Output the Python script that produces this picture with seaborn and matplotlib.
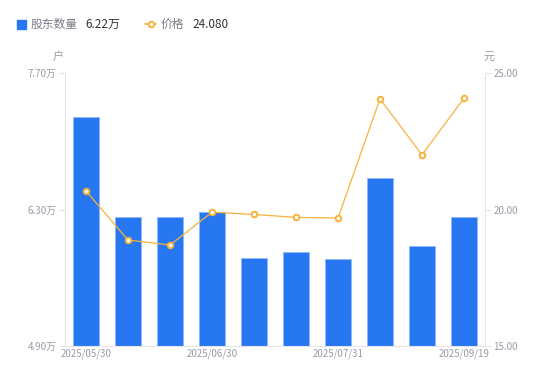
import matplotlib
matplotlib.use("Agg")
import matplotlib.pyplot as plt
from matplotlib.lines import Line2D
from matplotlib.patches import Rectangle
import pandas as pd
import seaborn as sns

dates = ["2025/05/30", "2025/06/10", "2025/06/20", "2025/06/30", "2025/07/10",
         "2025/07/20", "2025/07/31", "2025/08/29", "2025/09/10", "2025/09/19"]
holders = [7.25, 6.22, 6.22, 6.27, 5.80, 5.86, 5.79, 6.62, 5.93, 6.22]  # 万户
price = [20.68, 18.88, 18.70, 19.90, 19.82, 19.71, 19.69, 24.05, 22.00, 24.08]
left_ticks = [4.90, 6.30, 7.70]
right_ticks = [15.00, 20.00, 25.00]

df = pd.DataFrame({"date": dates, "holders": holders, "price": price})

sns.set_style("white")
plt.rcParams["font.family"] = ["Noto Sans CJK SC", "DejaVu Sans"]

BLUE = "#2777f2"
ORANGE = "#f7b23b"
GRAY = "#9a9aa8"
AXIS = "#e3e3e8"

fig = plt.figure(figsize=(5.5, 3.81), dpi=100)
ax = fig.add_axes([65 / 550, 35 / 381, 420 / 550, 273 / 381])

sns.barplot(data=df, x="date", y="holders", color=BLUE, width=0.6,
            edgecolor="#8fb8f8", linewidth=0.6, saturation=1, ax=ax)
ax.set_ylim(4.90, 7.70)
ax.set_yticks(left_ticks)
ax.set_yticklabels([f"{v:.2f}万" for v in left_ticks])
ax.set_xlim(-0.5, len(dates) - 0.5)
ax.set_xticks(range(0, len(dates), 3))
ax.set_xticklabels(dates[::3])
ax.set_xlabel("")
ax.set_ylabel("")

ax2 = ax.twinx()
sns.pointplot(data=df, x="date", y="price", color=ORANGE, markers="o",
              linewidth=0.9, markersize=4, markerfacecolor="white",
              markeredgewidth=1.4, ax=ax2)
ax2.set_ylim(15, 25)
ax2.set_yticks(right_ticks)
ax2.set_yticklabels([f"{v:.2f}" for v in right_ticks])
ax2.set_xlim(-0.5, len(dates) - 0.5)
ax2.set_xlabel("")
ax2.set_ylabel("")

for a in (ax, ax2):
    for s in a.spines.values():
        s.set_visible(False)
    a.tick_params(axis="y", colors=AXIS, labelcolor=GRAY, labelsize=7, length=4, width=0.8, pad=2)
    a.tick_params(axis="x", length=0, labelcolor=GRAY, labelsize=7, pad=2)
ax.spines["left"].set_visible(True)
ax.spines["left"].set_color(AXIS)
ax.spines["bottom"].set_visible(True)
ax.spines["bottom"].set_color(AXIS)
ax2.spines["right"].set_visible(True)
ax2.spines["right"].set_color(AXIS)

# unit labels
fig.text(58 / 550, 1 - 57 / 381, "户", color=GRAY, fontsize=8, ha="center", va="center")
fig.text(489 / 550, 1 - 57 / 381, "元", color=GRAY, fontsize=8, ha="center", va="center")

# legend
ly = 1 - 24 / 381
fig.add_artist(Rectangle((17 / 550, ly - 4.5 / 381), 9 / 550, 9 / 381,
                         transform=fig.transFigure, color=BLUE))
fig.text(31 / 550, ly, "股东数量", color="#7a7a88", fontsize=8.5, ha="left", va="center")
fig.text(85 / 550, ly, f"{holders[-1]:.2f}万", color="#333333", fontsize=8.5, ha="left", va="center")
fig.add_artist(Line2D([145 / 550, 156 / 550], [ly, ly], transform=fig.transFigure,
                      color=ORANGE, linewidth=1.2, marker="o", markevery=[0],
                      markersize=0))
fig.add_artist(Line2D([150.5 / 550], [ly], transform=fig.transFigure, color=ORANGE,
                      marker="o", markersize=4, markerfacecolor="white",
                      markeredgewidth=1.4, linestyle="none"))
fig.text(161 / 550, ly, "价格", color="#7a7a88", fontsize=8.5, ha="left", va="center")
fig.text(192 / 550, ly, f"{price[-1]:.3f}", color="#333333", fontsize=8.5, ha="left", va="center")

fig.savefig("out.png", dpi=100)
